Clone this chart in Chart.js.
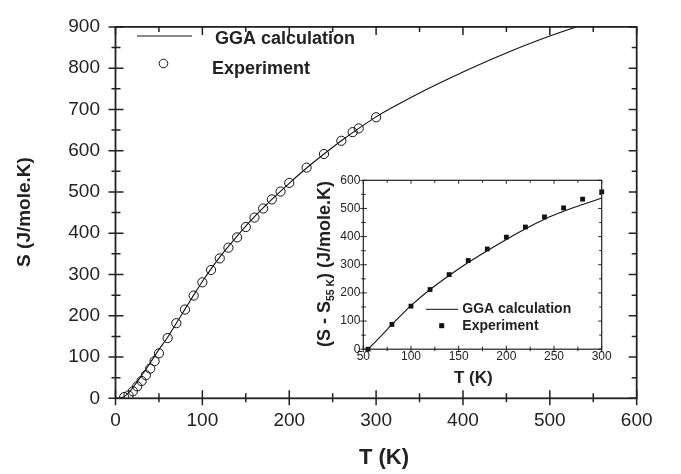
<!DOCTYPE html>
<html>
<head>
<meta charset="utf-8">
<script src="https://cdn.jsdelivr.net/npm/chart.js@4/dist/chart.umd.min.js"></script>
<style>
  html, body { margin: 0; padding: 0; background: #fff; }
  #wrap { position: relative; width: 681px; height: 474px; }
  #main { position: absolute; left: 0; top: 0; }
  #inset { position: absolute; left: 290px; top: 170px; }
</style>
</head>
<body>
<div id="wrap">
  <canvas id="main" width="681" height="474"></canvas>
  <canvas id="inset" width="330" height="220"></canvas>
</div>
<script>
// Entropy S(T): GGA calculation vs. experiment
const ggaT = [5, 10, 15, 20, 25, 30, 35, 40, 50, 60, 70, 80, 90, 100, 120, 140, 160, 180, 200, 220, 240, 260, 280, 300, 325, 350, 375, 400, 450, 500, 550, 600];
const ggaS = [0, 4, 13, 26, 40, 55, 70, 86, 118, 148, 182, 216, 250, 283, 342, 393, 440, 482, 521, 558, 592, 624, 654, 682, 712, 740, 766, 791, 837, 878, 913, 945];

const expT = [10, 15, 20, 25, 30, 35, 40, 45, 50, 60, 70, 80, 90, 100, 110, 120, 130, 140, 150, 160, 170, 180, 190, 200, 220, 240, 260, 273, 280, 300];
const expS = [3, 7, 17, 29, 42, 56, 72, 90, 109, 146, 182, 215, 249, 281, 311, 339, 365, 390, 415, 438, 460, 482, 501, 522, 559, 592, 624, 645, 654, 681];

// Inset: S - S(55 K)
const insetGgaT = [55, 60, 70, 80, 90, 100, 120, 140, 160, 180, 200, 220, 240, 260, 280, 300];
const insetGgaS = [0, 17, 52, 88, 122, 155, 212, 262, 308, 350, 390, 428, 462, 490, 514, 537];
const insetExpT = [55, 80, 100, 120, 140, 160, 180, 200, 220, 240, 260, 280, 300];
const insetExpS = [0, 88, 153, 212, 265, 315, 356, 398, 434, 470, 502, 533, 559];

// Tick labels
const mainXTicks = [0, 100, 200, 300, 400, 500, 600];
const mainYTicks = [0, 100, 200, 300, 400, 500, 600, 700, 800, 900];
const insetXTicks = [50, 100, 150, 200, 250, 300];
const insetYTicks = [0, 100, 200, 300, 400, 500, 600];

const FONT = '"Liberation Sans", Arial, Helvetica, sans-serif';
const INK = '#222';

function pts(xs, ys) { return xs.map((x, i) => ({ x: x, y: ys[i] })); }
function fixTicks(list) { return s => { s.ticks = list.map(v => ({ value: v })); }; }

// Frame with ticks crossing the bottom/left axes and pointing inward on top/right
function frameTicks(opts) {
  return {
    id: 'frameTicks',
    afterDraw(chart) {
      const { ctx, chartArea: a, scales: { x, y } } = chart;
      const minorX = [], minorY = [];
      for (let i = 0; i < opts.xTicks.length - 1; i++) minorX.push((opts.xTicks[i] + opts.xTicks[i + 1]) / 2);
      for (let i = 0; i < opts.yTicks.length - 1; i++) minorY.push((opts.yTicks[i] + opts.yTicks[i + 1]) / 2);
      ctx.save();
      ctx.strokeStyle = INK;
      ctx.lineWidth = opts.tickWidth;
      ctx.beginPath();
      const putX = (list, len) => {
        list.forEach(v => {
          const px = x.getPixelForValue(v);
          ctx.moveTo(px, a.bottom - len.inn); ctx.lineTo(px, a.bottom + len.out);
          ctx.moveTo(px, a.top); ctx.lineTo(px, a.top + len.inn);
        });
      };
      const putY = (list, len) => {
        list.forEach(v => {
          const py = y.getPixelForValue(v);
          ctx.moveTo(a.left - len.out, py); ctx.lineTo(a.left + len.inn, py);
          ctx.moveTo(a.right, py); ctx.lineTo(a.right - len.inn, py);
        });
      };
      putX(opts.xTicks, opts.major); putX(minorX, opts.minor);
      putY(opts.yTicks, opts.major); putY(minorY, opts.minor);
      ctx.stroke();
      ctx.lineWidth = opts.frameWidth;
      ctx.strokeRect(a.left, a.top, a.right - a.left, a.bottom - a.top);
      ctx.restore();
    }
  };
}

const mainDecor = {
  id: 'mainDecor',
  afterDraw(chart) {
    const ctx = chart.ctx;
    ctx.save();
    ctx.fillStyle = INK;
    ctx.textBaseline = 'middle';
    // axis titles
    ctx.font = 'bold 22px ' + FONT;
    ctx.textAlign = 'center';
    ctx.fillText('T (K)', 384, 458);
    ctx.save();
    ctx.translate(25, 212);
    ctx.rotate(-Math.PI / 2);
    ctx.font = 'bold 19px ' + FONT;
    ctx.fillText('S (J/mole.K)', 0, 0);
    ctx.restore();
    // legend
    ctx.strokeStyle = '#111';
    ctx.lineWidth = 1;
    ctx.beginPath(); ctx.moveTo(137, 36); ctx.lineTo(192, 36); ctx.stroke();
    ctx.beginPath(); ctx.arc(163.5, 63.5, 4.3, 0, Math.PI * 2); ctx.stroke();
    ctx.font = 'bold 18px ' + FONT;
    ctx.textAlign = 'left';
    ctx.fillText('GGA calculation', 215, 39);
    ctx.fillText('Experiment', 212, 69);
    ctx.restore();
  }
};

new Chart(document.getElementById('main'), {
  type: 'scatter',
  data: {
    datasets: [
      {
        label: 'GGA calculation',
        data: pts(ggaT, ggaS),
        showLine: true,
        borderColor: '#111',
        borderWidth: 1.1,
        pointRadius: 0,
        cubicInterpolationMode: 'monotone'
      },
      {
        label: 'Experiment',
        data: pts(expT, expS),
        showLine: false,
        pointStyle: 'circle',
        pointRadius: 4.6,
        borderColor: '#111',
        borderWidth: 1,
        backgroundColor: 'rgba(0,0,0,0)'
      }
    ]
  },
  options: {
    responsive: false,
    animation: false,
    layout: { padding: { left: 0, right: 44.3, top: 15, bottom: 0 } },
    plugins: { legend: { display: false }, tooltip: { enabled: false } },
    scales: {
      x: {
        type: 'linear', min: 0, max: 600,
        afterBuildTicks: fixTicks(mainXTicks),
        afterFit: s => { s.height = 75.7; },
        grid: { display: false, drawTicks: false },
        border: { display: false },
        ticks: { color: INK, font: { family: FONT, size: 19 }, padding: 11 }
      },
      y: {
        type: 'linear', min: 0, max: 900,
        afterBuildTicks: fixTicks(mainYTicks),
        afterFit: s => { s.width = 115.5; },
        grid: { display: false, drawTicks: false },
        border: { display: false },
        ticks: { color: INK, font: { family: FONT, size: 19 }, padding: 15.5 }
      }
    }
  },
  plugins: [frameTicks({
    xTicks: mainXTicks, yTicks: mainYTicks,
    major: { inn: 8, out: 7 }, minor: { inn: 5, out: 4 },
    tickWidth: 1.5, frameWidth: 1.8
  }), mainDecor]
});

const insetDecor = {
  id: 'insetDecor',
  afterDraw(chart) {
    const ctx = chart.ctx;
    ctx.save();
    ctx.fillStyle = INK;
    ctx.textBaseline = 'middle';
    ctx.textAlign = 'center';
    ctx.font = 'bold 17px ' + FONT;
    ctx.fillText('T (K)', 183.3, 208);
    // rotated y title with subscript
    ctx.save();
    ctx.translate(33, 94);
    ctx.rotate(-Math.PI / 2);
    ctx.textAlign = 'left';
    ctx.textBaseline = 'alphabetic';
    const big = 'bold 18px ' + FONT, small = 'bold 10.5px ' + FONT;
    const p1 = '(S - S', p2 = '55 K', p3 = ') (J/mole.K)';
    ctx.font = big; const w1 = ctx.measureText(p1).width, w3 = ctx.measureText(p3).width;
    ctx.font = small; const w2 = ctx.measureText(p2).width;
    let sx = -(w1 + w2 + w3) / 2;
    const base = 6.5;
    ctx.font = big; ctx.fillText(p1, sx, base); sx += w1;
    ctx.font = small; ctx.fillText(p2, sx, base + 4); sx += w2;
    ctx.font = big; ctx.fillText(p3, sx, base);
    ctx.restore();
    // legend
    ctx.strokeStyle = '#111';
    ctx.lineWidth = 1;
    ctx.beginPath(); ctx.moveTo(136, 139.3); ctx.lineTo(168.3, 139.3); ctx.stroke();
    ctx.fillStyle = '#111';
    ctx.fillRect(151.7 - 2.5, 155.7 - 2.5, 5, 5);
    ctx.fillStyle = INK;
    ctx.textAlign = 'left';
    ctx.textBaseline = 'middle';
    ctx.font = 'bold 14px ' + FONT;
    ctx.fillText('GGA calculation', 172.3, 139.3);
    ctx.fillText('Experiment', 172.3, 156.3);
    ctx.restore();
  }
};

new Chart(document.getElementById('inset'), {
  type: 'scatter',
  data: {
    datasets: [
      {
        label: 'GGA calculation',
        data: pts(insetGgaT, insetGgaS),
        showLine: true,
        borderColor: '#111',
        borderWidth: 1.1,
        pointRadius: 0,
        cubicInterpolationMode: 'monotone'
      },
      {
        label: 'Experiment',
        data: pts(insetExpT, insetExpS),
        showLine: false,
        pointStyle: 'rect',
        pointRadius: 3.4,
        borderWidth: 0,
        backgroundColor: '#111',
        clip: false
      }
    ]
  },
  options: {
    responsive: false,
    animation: false,
    layout: { padding: { left: 0, right: 18.3, top: 10.3, bottom: 0 } },
    plugins: { legend: { display: false }, tooltip: { enabled: false } },
    scales: {
      x: {
        type: 'linear', min: 50, max: 300,
        afterBuildTicks: fixTicks(insetXTicks),
        afterFit: s => { s.height = 40.8; },
        grid: { display: false, drawTicks: false },
        border: { display: false },
        ticks: { color: INK, font: { family: FONT, size: 12 }, padding: 0 }
      },
      y: {
        type: 'linear', min: 0, max: 600,
        afterBuildTicks: fixTicks(insetYTicks),
        afterFit: s => { s.width = 73.3; },
        grid: { display: false, drawTicks: false },
        border: { display: false },
        ticks: { color: INK, font: { family: FONT, size: 12 }, padding: 3 }
      }
    }
  },
  plugins: [frameTicks({
    xTicks: insetXTicks,
    yTicks: insetYTicks,
    major: { inn: 3.5, out: 3 }, minor: { inn: 2.5, out: 2 },
    tickWidth: 1, frameWidth: 1.2
  }), insetDecor]
});
</script>
</body>
</html>
